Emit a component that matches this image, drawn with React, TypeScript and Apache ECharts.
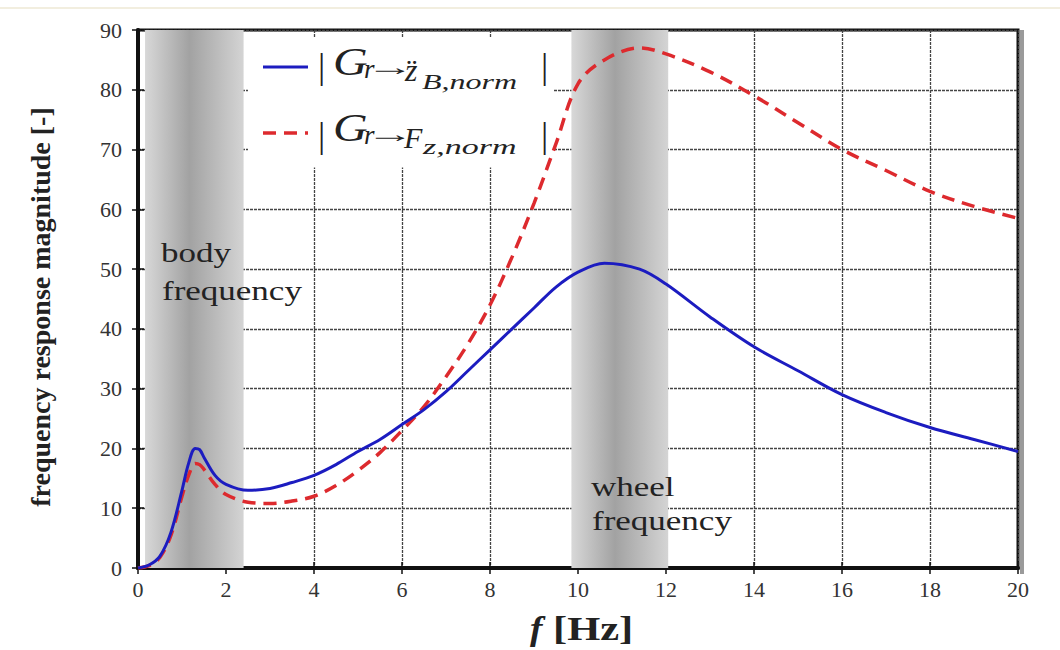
import React, { useEffect, useRef } from "react";
import * as echarts from "echarts";

const freqHz = [0, 0.25, 0.5, 0.75, 1.0, 1.15, 1.3, 1.4, 1.5, 1.75, 2.0, 2.5, 3.0, 3.5, 4.0, 4.5, 5.0, 5.5, 6.0, 6.5, 7.0, 7.5, 8.0, 8.5, 9.0, 9.5, 10.0, 10.6, 11.4, 12.0, 13.0, 14.0, 15.0, 16.0, 17.0, 18.0, 19.0, 20.0];
const accelMag = [0, 0.5, 2, 6, 13, 17.5, 20, 19.8, 18.5, 15.5, 14, 13, 13.3, 14.3, 15.5, 17.3, 19.5, 21.5, 24, 26.5, 29.5, 33, 36.5, 40, 43.5, 47, 49.5, 51, 50, 47.5, 42, 37, 33, 29, 26, 23.5, 21.5, 19.5];
const forceMag = [0, 0.4, 1.8, 5.5, 12, 15.5, 17.5, 17.3, 16.5, 14, 12.3, 11, 10.8, 11.2, 12, 13.8, 16.3, 19.3, 23, 27, 32, 37.5, 44, 52, 61, 71, 81, 85, 87, 86, 83, 79, 74.5, 70, 66.5, 63, 60.5, 58.5];
const bodyBand = [0.16, 2.4];
const wheelBand = [9.85, 12.05];
const legendBox = [2.5, 9.45, 67, 88.8];
const xTicks = { min: 0, max: 20, interval: 2 };
const yTicks = { min: 0, max: 90, interval: 10 };

const SERIF = "Liberation Serif";

export default function App() {
  const ref = useRef<HTMLDivElement>(null);
  useEffect(() => {
    document.body.style.margin = "0";
    const chart = echarts.init(ref.current!, undefined, { renderer: "svg" });
    const bandGrad = () =>
      new echarts.graphic.LinearGradient(0, 0, 1, 0, [
        { offset: 0, color: "#d8d8d8" },
        { offset: 0.45, color: "#a2a2a2" },
        { offset: 1, color: "#d4d4d4" },
      ]);
    const pair = (ys: number[]) => freqHz.map((x, i) => [x, ys[i]]);
    const axisLabel = { fontFamily: SERIF, fontSize: 22, color: "#333" };
    const t = (x: number, y: number, text: string, size: number, italic = false, sx = 1, bold = false, align = "left") => {
      const style: any = {
        text,
        font: (italic ? "italic " : "") + (bold ? "bold " : "") + size + "px " + SERIF,
        fontFamily: SERIF,
        fontSize: size,
        fill: "#222",
        verticalAlign: "middle",
        align,
      };
      if (italic) style.fontStyle = "italic";
      if (bold) style.fontWeight = "bold";
      return { type: "text", x, y, z: 100, scaleX: sx, style };
    };
    const option: any = {
      animation: false,
      backgroundColor: "#fff",
      grid: { left: 138, right: 42, top: 30, bottom: 82, show: true, borderColor: "#111", borderWidth: 3 },
      xAxis: [
        {
          type: "value", ...xTicks,
          axisLine: { show: true, lineStyle: { color: "#111", width: 4 } },
          axisTick: { inside: true, length: 6, lineStyle: { color: "#111", width: 1.5 } },
          axisLabel: { ...axisLabel, margin: 10 },
          splitLine: { show: true, lineStyle: { color: "#444", width: 1.3, type: [3, 1] } },
        },
        {
          type: "value", ...xTicks, position: "top",
          axisLine: { show: true, lineStyle: { color: "#111", width: 3 } },
          axisTick: { inside: true, length: 6, lineStyle: { color: "#111", width: 1.5 } },
          axisLabel: { show: false }, splitLine: { show: false },
        },
      ],
      yAxis: [
        {
          type: "value", ...yTicks,
          axisLine: { show: true, lineStyle: { color: "#111", width: 4 } },
          axisTick: { inside: true, length: 6, lineStyle: { color: "#111", width: 1.5 } },
          axisLabel: { ...axisLabel, margin: 16 },
          splitLine: { show: true, lineStyle: { color: "#444", width: 1.3, type: [3, 1] } },
          name: "frequency response magnitude [-]",
          nameLocation: "middle",
          nameGap: 84,
          nameTextStyle: { fontFamily: SERIF, fontSize: 28, fontWeight: "bold", color: "#222", padding: [0, 16, 0, 0] },
        },
        {
          type: "value", ...yTicks, position: "right",
          axisLine: { show: true, lineStyle: { color: "#111", width: 3 } },
          axisTick: { inside: true, length: 6, lineStyle: { color: "#111", width: 1.5 } },
          axisLabel: { show: false }, splitLine: { show: false },
        },
      ],
      series: [
        {
          type: "line", data: [], z: 1, silent: true,
          markArea: {
            silent: true,
            label: { show: false },
            data: [
              [{ xAxis: bodyBand[0], yAxis: 0, itemStyle: { color: bandGrad() } }, { xAxis: bodyBand[1], yAxis: 90 }],
              [{ xAxis: wheelBand[0], yAxis: 0, itemStyle: { color: bandGrad() } }, { xAxis: wheelBand[1], yAxis: 90 }],
              [{ xAxis: legendBox[0], yAxis: legendBox[2], itemStyle: { color: "#fff" } }, { xAxis: legendBox[1], yAxis: legendBox[3] }],
            ],
          },
        },
        {
          name: "accel", type: "line", data: pair(accelMag), smooth: 0.35, showSymbol: false, z: 4,
          lineStyle: { color: "#1c1cc0", width: 3 },
        },
        {
          name: "force", type: "line", data: pair(forceMag), smooth: 0.35, showSymbol: false, z: 3,
          lineStyle: { color: "#dd2a2e", width: 3.5, type: [13, 8] },
        },
      ],
      graphic: [
        { type: "line", z: 100, shape: { x1: 0, y1: 8, x2: 1060, y2: 8 }, style: { stroke: "#f2eedf", lineWidth: 2 } },
        { type: "rect", z: 100, shape: { x: 1020, y: 30, width: 4, height: 544 }, style: { fill: "#9a9a9a" } },
        // legend row 1
        { type: "line", z: 100, shape: { x1: 263, y1: 67, x2: 308, y2: 67 }, style: { stroke: "#1c1cc0", lineWidth: 3 } },
        t(318, 66, "|", 36),
        t(333, 62, "G", 40, true, 1.2),
        t(364, 69, "r", 27, true),
        t(390, 67, "→", 24, false, 2.0, false, "center"),
        t(405, 70, "z̈", 32, true),
        t(422, 82, "B,norm", 20, true, 1.6),
        t(541, 66, "|", 36),
        // legend row 2
        { type: "line", z: 100, shape: { x1: 263, y1: 133, x2: 308, y2: 133 }, style: { stroke: "#dd2a2e", lineWidth: 3.5, lineDash: [13, 8] } },
        t(318, 135, "|", 36),
        t(333, 128, "G", 40, true, 1.2),
        t(364, 135, "r", 27, true),
        t(390, 134, "→", 24, false, 2.0, false, "center"),
        t(404, 137, "F", 30, true),
        t(423, 147, "z,norm", 20, true, 1.7),
        t(541, 135, "|", 36),
        // band labels
        t(161, 253, "body", 28, false, 1.25),
        t(162, 291, "frequency", 28, false, 1.25),
        t(591, 487, "wheel", 28, false, 1.25),
        t(592, 521, "frequency", 28, false, 1.25),
        // x axis title
        t(530, 629, "f", 34, true, 1.1, true),
        t(553, 629, "[Hz]", 34, false, 1.25, true),
      ],
    };
    chart.setOption(option);
    return () => chart.dispose();
  }, []);
  return <div ref={ref} style={{ width: 1060, height: 650 }} />;
}
